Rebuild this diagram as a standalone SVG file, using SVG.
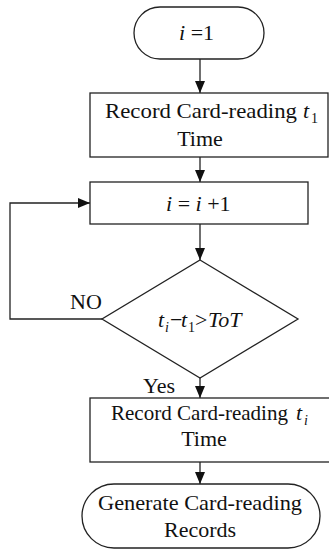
<svg xmlns="http://www.w3.org/2000/svg" width="329" height="550" viewBox="0 0 329 550" font-family="'Liberation Serif', 'Times New Roman', serif">
  <defs>
    <marker id="arrow" markerWidth="12" markerHeight="10" refX="12" refY="5" orient="auto" markerUnits="userSpaceOnUse">
      <path d="M0,0 L12,5 L0,10 Z" fill="#111"/>
    </marker>
    <style>
      .shape { fill: #fff; stroke: #222; stroke-width: 1.3; }
      .edge { fill: none; stroke: #222; stroke-width: 1.3; marker-end: url(#arrow); }
      text { font-family: "Liberation Serif", "Times New Roman", serif; font-size: 22px; fill: #111; }
      .it { font-style: italic; }
      .sub { font-size: 14px; }
    </style>
  </defs>

  <g id="connectors">
    <line class="edge" x1="200" y1="59" x2="200" y2="93"/>
    <line class="edge" x1="200" y1="157" x2="200" y2="182"/>
    <line class="edge" x1="200" y1="224" x2="200" y2="260"/>
    <polyline class="edge" points="102,319 10,319 10,203 90,203"/>
    <line class="edge" x1="200" y1="378" x2="200" y2="398"/>
    <line class="edge" x1="200" y1="462" x2="200" y2="484"/>
    <text x="70" y="309" font-size="20">NO</text>
    <text x="143" y="393" font-size="20">Yes</text>
  </g>

  <g id="start">
    <rect class="shape" x="134" y="7" width="130" height="52" rx="26" ry="26"/>
    <text x="179" y="40"><tspan class="it">i</tspan> =1</text>
  </g>

  <g id="record-first">
    <rect class="shape" x="90" y="93" width="238" height="64"/>
    <text x="105" y="118" textLength="192" lengthAdjust="spacingAndGlyphs">Record Card-reading</text>
    <text x="303" y="118" class="it">t</text>
    <text x="311" y="123" class="sub">1</text>
    <text x="200" y="146" text-anchor="middle">Time</text>
  </g>

  <g id="increment">
    <rect class="shape" x="90" y="182" width="218" height="42"/>
    <text x="166" y="211"><tspan class="it">i</tspan> = <tspan class="it">i</tspan> +1</text>
  </g>

  <g id="decision">
    <polygon class="shape" points="200,260 298,319 200,378 102,319"/>
    <text x="158" y="327" class="it">t</text>
    <text x="165" y="332" class="sub it">i</text>
    <text x="170" y="327">−</text>
    <text x="181" y="327" class="it">t</text>
    <text x="188" y="332" class="sub">1</text>
    <text x="195" y="327">&gt;</text>
    <text x="208" y="327" class="it" font-size="18">ToT</text>
  </g>

  <g id="record-current">
    <rect class="shape" x="90" y="398" width="245" height="64"/>
    <text x="111" y="420" textLength="177" lengthAdjust="spacingAndGlyphs">Record Card-reading</text>
    <text x="296" y="420" class="it">t</text>
    <text x="304" y="425" class="sub it">i</text>
    <text x="204" y="446" text-anchor="middle">Time</text>
  </g>

  <g id="end">
    <rect class="shape" x="82" y="484" width="238" height="64" rx="32" ry="32"/>
    <text x="200" y="510" text-anchor="middle" textLength="204" lengthAdjust="spacingAndGlyphs">Generate Card-reading</text>
    <text x="200" y="537" text-anchor="middle">Records</text>
  </g>
</svg>
